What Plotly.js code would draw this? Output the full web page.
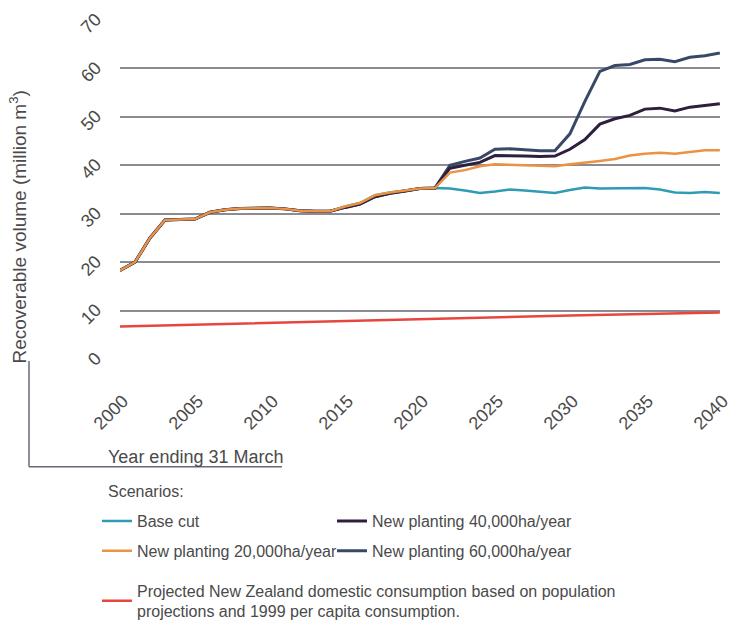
<!DOCTYPE html>
<html>
<head>
<meta charset="utf-8">
<script src="https://cdn.plot.ly/plotly-3.0.1.min.js"></script>
<style>html,body{margin:0;padding:0;background:#fff}#chart{width:739px;height:641px}</style>
</head>
<body>
<div id="chart"></div>
<script>
const years = [2000,2001,2002,2003,2004,2005,2006,2007,2008,2009,2010,2011,2012,2013,2014,2015,2016,2017,2018,2019,2020,
               2021,2022,2023,2024,2025,2026,2027,2028,2029,2030,2031,2032,2033,2034,2035,2036,2037,2038,2039,2040];

const baseCut = [18.3,20.0,25.0,28.7,28.8,28.9,30.3,30.8,31.1,31.2,31.2,31.0,30.6,30.5,30.5,31.5,32.2,33.8,34.4,34.8,35.2,
                 35.3,35.2,34.8,34.3,34.6,35.0,34.8,34.6,34.3,34.9,35.4,35.2,35.2,35.3,35.3,35.0,34.4,34.3,34.5,34.3];

const plant20k = [18.3,20.0,25.0,28.7,28.8,28.9,30.3,30.8,31.1,31.2,31.2,31.0,30.6,30.5,30.5,31.5,32.2,33.8,34.4,34.8,35.2,
                  35.3,38.5,39.0,39.8,40.2,40.1,39.9,39.8,39.8,40.2,40.5,40.9,41.3,42.0,42.4,42.6,42.4,42.8,43.1,43.1];

const plant40k = [18.3,20.0,25.0,28.7,28.8,28.9,30.3,30.8,31.1,31.2,31.2,31.0,30.6,30.5,30.5,31.3,32.0,33.5,34.2,34.7,35.2,
                  35.3,39.4,40.0,40.6,42.0,42.0,41.9,41.8,41.9,43.3,45.3,48.5,49.6,50.3,51.6,51.8,51.2,52.0,52.4,52.7];

const plant60k = [18.3,20.0,25.0,28.7,28.8,28.9,30.3,30.8,31.1,31.2,31.2,31.0,30.6,30.5,30.5,31.3,32.0,33.5,34.2,34.7,35.2,
                  35.3,40.0,40.8,41.5,43.3,43.4,43.2,43.0,43.0,46.5,53.2,59.4,60.6,60.8,61.8,61.9,61.4,62.3,62.6,63.2];

const consYears = [2000,2010,2020,2030,2040];
const consumption = [6.7,7.5,8.3,9.0,9.6];

const xTicks = [2000,2005,2010,2015,2020,2025,2030,2035,2040];

const names = {
  base: "Base cut",
  p20: "New planting 20,000ha/year",
  p40: "New planting 40,000ha/year",
  p60: "New planting 60,000ha/year",
  cons: "Projected New Zealand domestic consumption based on population<br>projections and 1999 per capita consumption."
};

const FONT = "Liberation Sans, Arial, sans-serif";
const TXT = "#4a4a4a";
const LFS = 16;

// pixel helpers for paper coordinates (plot area: x 120..720, y 20..363)
const px = v => (v - 120) / 600;
const py = v => (363 - v) / 343;

const traces = [
  {x: consYears, y: consumption, name: names.cons, mode: "lines", line: {color: "#e8453f", width: 2.5}, legend: "legend5"},
  {x: years, y: baseCut, name: names.base, mode: "lines", line: {color: "#2f9bb5", width: 2.5}, legend: "legend"},
  {x: years, y: plant60k, name: names.p60, mode: "lines", line: {color: "#3a4868", width: 3}, legend: "legend4"},
  {x: years, y: plant40k, name: names.p40, mode: "lines", line: {color: "#2e1f3e", width: 3}, legend: "legend2"},
  {x: years, y: plant20k, name: names.p20, mode: "lines", line: {color: "#ea9345", width: 2.5}, legend: "legend3"}
];

function leg(xp, yp, anchor) {
  return {x: px(xp), xanchor: "left", y: py(yp), yanchor: anchor || "middle",
          font: {family: FONT, size: LFS, color: TXT}, itemwidth: 30, bgcolor: "rgba(0,0,0,0)",
          borderwidth: 0, orientation: "v"};
}

const layout = {
  width: 739, height: 641,
  margin: {l: 120, r: 19, t: 20, b: 278},
  paper_bgcolor: "#ffffff", plot_bgcolor: "#ffffff",
  font: {family: FONT, color: TXT, size: 18},
  showlegend: true,
  xaxis: {
    range: [2000, 2040.01], tickvals: xTicks,
    tickangle: -45, showgrid: false, zeroline: false, showline: false, ticks: "",
    tickfont: {family: FONT, size: 18, color: TXT}, ticklabelshift: 3, ticklabelstandoff: 27,
    ticklabeloverflow: "allow"
  },
  yaxis: {
    range: [0, 70], dtick: 10, tickangle: -45, showgrid: true, gridcolor: "#8c8a92", gridwidth: 2,
    zeroline: false, showline: false, ticks: "",
    tickfont: {family: FONT, size: 18, color: TXT}, ticklabelstandoff: 23, ticklabelshift: -3,
    ticklabeloverflow: "allow"
  },
  legend: leg(97, 527),
  legend2: leg(332, 527),
  legend3: leg(97, 557),
  legend4: leg(332, 557),
  legend5: leg(97, 580, "top"),
  annotations: [
    {text: "Recoverable volume (million m<sup>3</sup>)", xref: "paper", yref: "paper",
     x: px(18), y: py(229), xanchor: "center", yanchor: "middle", textangle: -90, showarrow: false,
     font: {family: FONT, size: 19, color: TXT}},
    {text: "Year ending 31 March", xref: "paper", yref: "paper",
     x: px(106), y: py(462), xanchor: "left", yanchor: "middle", showarrow: false,
     font: {family: FONT, size: 18, color: TXT}},
    {text: "Scenarios:", xref: "paper", yref: "paper",
     x: px(106), y: py(497), xanchor: "left", yanchor: "middle", showarrow: false,
     font: {family: FONT, size: LFS, color: TXT}}
  ],
  shapes: [
    {type: "line", xref: "paper", yref: "paper", x0: px(29), x1: px(29), y0: py(365), y1: py(472),
     line: {color: "#6a6878", width: 1.5}},
    {type: "line", xref: "paper", yref: "paper", x0: px(29), x1: px(282), y0: py(472), y1: py(472),
     line: {color: "#6a6878", width: 1.5}}
  ]
};

Plotly.newPlot("chart", traces, layout, {displayModeBar: false, staticPlot: true});
</script>
</body>
</html>
